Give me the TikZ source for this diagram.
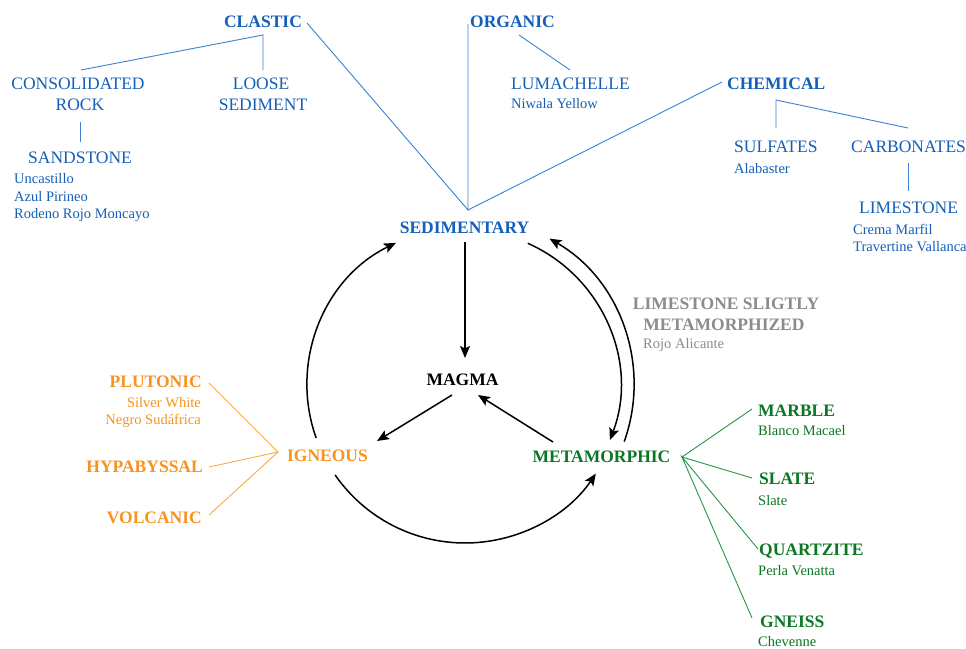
\documentclass[tikz,border=0pt]{standalone}
\usepackage{fontspec}
\setmainfont{Liberation Serif}
\usetikzlibrary{arrows.meta,calc}
\definecolor{bluet}{RGB}{20,95,185}
\definecolor{bluel}{RGB}{60,130,210}
\definecolor{orat}{RGB}{247,147,30}
\definecolor{oral}{RGB}{250,170,70}
\definecolor{grnt}{RGB}{10,120,35}
\definecolor{grnl}{RGB}{40,150,70}
\definecolor{grayt}{RGB}{140,140,140}
\begin{document}
\begin{tikzpicture}[x=1pt,y=-1pt,
  every node/.style={inner sep=0pt},
  big/.style={font=\fontsize{17.5}{21}\selectfont},
  bigb/.style={font=\fontsize{17.5}{21}\selectfont\bfseries},
  small/.style={font=\fontsize{14.5}{17}\selectfont},
  bl/.style={draw=bluel,line width=0.9pt},
  ol/.style={draw=oral,line width=0.9pt},
  gl/.style={draw=grnl,line width=0.9pt},
  arr/.style={draw=black,line width=1.5pt,-{Stealth[length=12pt,width=10pt,inset=2.5pt]}}]
\useasboundingbox[fill=white] (0,0) rectangle (966,648);

% ---------- sedimentary branch ----------
\node[bigb,text=bluet,anchor=base] (clastic) at (263,27) {CLASTIC};
\node[big,text=bluet,anchor=base] (cons1) at (78,89) {CONSOLIDATED};
\node[big,text=bluet,anchor=base] (cons2) at (80,110) {ROCK};
\node[big,text=bluet,anchor=base] (sandstone) at (80,163) {SANDSTONE};
\node[small,text=bluet,anchor=base west] (uncast) at (14,183) {Uncastillo};
\node[small,text=bluet,anchor=base west] (azul) at (14,201) {Azul Pirineo};
\node[small,text=bluet,anchor=base west] (rodeno) at (14,218.5) {Rodeno Rojo Moncayo};
\node[big,text=bluet,anchor=base] (loose1) at (261,89) {LOOSE};
\node[big,text=bluet,anchor=base] (loose2) at (263,110) {SEDIMENT};
\node[bigb,text=bluet,anchor=base west] (organic) at (470,27) {ORGANIC};
\node[big,text=bluet,anchor=base west] (lumachelle) at (511,89) {LUMACHELLE};
\node[small,text=bluet,anchor=base west] (niwala) at (511,108.5) {Niwala Yellow};
\node[bigb,text=bluet,anchor=base west] (chemical) at (727,89) {CHEMICAL};
\node[big,text=bluet,anchor=base west] (sulfates) at (734,152) {SULFATES};
\node[small,text=bluet,anchor=base west] (alabaster) at (734,173) {Alabaster};
\node[big,text=bluet,anchor=base west] (carbonates) at (851,152) {CARBONATES};
\node[big,text=bluet,anchor=base west] (limestone) at (859,213) {LIMESTONE};
\node[small,text=bluet,anchor=base west] (crema) at (853,234) {Crema Marfil};
\node[small,text=bluet,anchor=base west] (travertine) at (853,251) {Travertine Vallanca};

\coordinate (sedJ) at (468,210);
\coordinate (clasE) at (307,23);
\coordinate (clasJ) at (263,35);
\coordinate (consT) at (81,70);
\coordinate (looseT) at (263,70);
\coordinate (rockB) at (80,122);
\coordinate (sandT) at (80,142);
\coordinate (orgL) at (468,24);
\coordinate (orgJ) at (519,35);
\coordinate (lumT) at (570,70);
\coordinate (chemL) at (722,82);
\coordinate (chemJ) at (776,100);
\coordinate (sulT) at (776,128);
\coordinate (carT) at (908,128);
\coordinate (carB) at (908,163);
\coordinate (limT) at (908,191);

\draw[bl] (clasE) -- (sedJ) -- (orgL);
\draw[bl] (sedJ) -- (chemL);
\draw[bl] (consT) -- (clasJ) -- (looseT);
\draw[bl] (rockB) -- (sandT);
\draw[bl] (orgJ) -- (lumT);
\draw[bl] (sulT) -- (chemJ) -- (carT);
\draw[bl] (carB) -- (limT);

% ---------- cycle ----------
\node[bigb,text=bluet,anchor=base] (sedimentary) at (464.5,233) {SEDIMENTARY};
\node[bigb,text=black,anchor=base] (magma) at (462.5,385) {MAGMA};
\node[bigb,text=orat,anchor=base] (igneous) at (327.5,461.5) {IGNEOUS};
\node[bigb,text=grnt,anchor=base] (metamorphic) at (601.5,462) {METAMORPHIC};

\coordinate (C) at (465,385);
\coordinate (sedB) at (465,242);
\coordinate (magT) at (465,358);
\coordinate (magL) at (452,395);
\coordinate (igT) at (377,441);
\coordinate (metT) at (553,442);
\coordinate (magR) at (478,395);

\draw[arr] (sedB) -- (magT);
\draw[arr] (magL) -- (igT);
\draw[arr] (metT) -- (magR);
\draw[arr] ($(C)+(160.4:158)$) arc[start angle=160.4,end angle=244.1,radius=158];
\draw[arr] ($(C)+(145.3:158)$) arc[start angle=145.3,end angle=34.1,radius=158];
\draw[arr] ($(C)+(-66.1:155)$) arc[start angle=-66.1,end angle=20.8,radius=155];
\draw[arr] ($(C)+(19.6:169)$) arc[start angle=19.6,end angle=-60,radius=169];

\node[bigb,text=grayt,anchor=base] (lim1) at (726,309) {LIMESTONE SLIGTLY};
\node[bigb,text=grayt,anchor=base] (lim2) at (724,330) {METAMORPHIZED};
\node[small,text=grayt,anchor=base west] (rojo) at (643,348) {Rojo Alicante};

% ---------- igneous branch ----------
\node[bigb,text=orat,anchor=base east] (plutonic) at (202,387) {PLUTONIC};
\node[small,text=orat,anchor=base east] (silver) at (201,407) {Silver White};
\node[small,text=orat,anchor=base east] (negro) at (201,424) {Negro Sudáfrica};
\node[bigb,text=orat,anchor=base east] (hypabyssal) at (203,472) {HYPABYSSAL};
\node[bigb,text=orat,anchor=base east] (volcanic) at (202,523) {VOLCANIC};
\coordinate (igJ) at (278,452);
\coordinate (plutR) at (209,383);
\coordinate (hypR) at (209,467);
\coordinate (volR) at (209,515);
\draw[ol] (plutR) -- (igJ) -- (volR);
\draw[ol] (hypR) -- (igJ);

% ---------- metamorphic branch ----------
\node[bigb,text=grnt,anchor=base west] (marble) at (758,416) {MARBLE};
\node[small,text=grnt,anchor=base west] (blanco) at (758,435) {Blanco Macael};
\node[bigb,text=grnt,anchor=base west] (slate) at (759,484) {SLATE};
\node[small,text=grnt,anchor=base west] (slate2) at (758,505) {Slate};
\node[bigb,text=grnt,anchor=base west] (quartzite) at (759,555) {QUARTZITE};
\node[small,text=grnt,anchor=base west] (perla) at (758,575) {Perla Venatta};
\node[bigb,text=grnt,anchor=base west] (gneiss) at (760,627) {GNEISS};
\node[small,text=grnt,anchor=base west] (chevenne) at (758,646.5) {Chevenne};
\coordinate (metJ) at (682,457);
\coordinate (marL) at (752,409);
\coordinate (slaL) at (752,478);
\coordinate (quaL) at (758,549);
\coordinate (gneL) at (752,618);
\draw[gl] (marL) -- (metJ) -- (slaL);
\draw[gl] (quaL) -- (metJ) -- (gneL);
\end{tikzpicture}
\end{document}
